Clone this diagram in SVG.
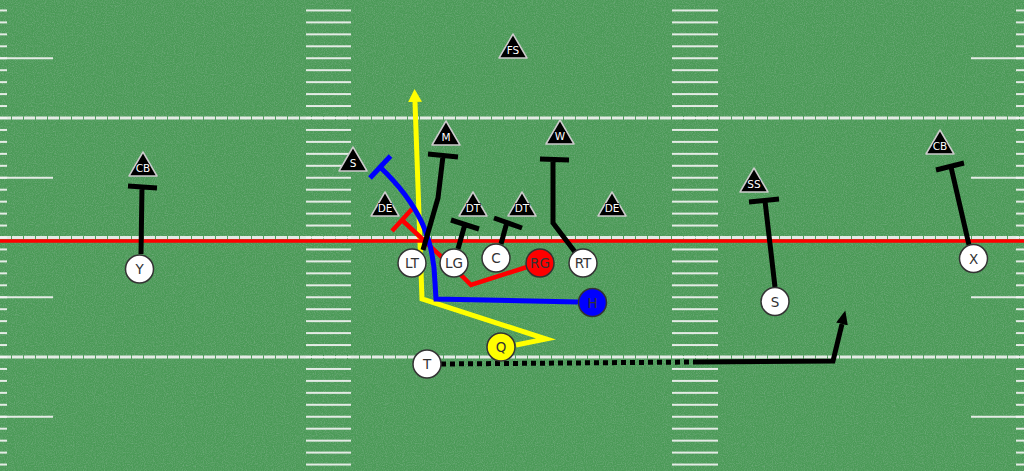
<svg xmlns="http://www.w3.org/2000/svg" width="1024" height="471" viewBox="0 0 1024 471">
<defs>
<style>
.yard{stroke:#f4f4f4;stroke-width:3;opacity:.9;stroke-dasharray:11 1}
.long{stroke:#f4f4f4;stroke-width:2;opacity:.9}
.blk{fill:none;stroke:#000;stroke-width:5;stroke-linejoin:miter}
.off circle{fill:#fff;stroke:#333;stroke-width:1.5}
.off text{font-family:"DejaVu Sans",Verdana,sans-serif;font-size:13.5px;fill:#333;text-anchor:middle}
.def polygon{fill:#000;stroke:#ccc;stroke-width:1.5;stroke-linejoin:round}
.def text{font-family:"DejaVu Sans",Verdana,sans-serif;font-size:10.5px;fill:#fff;text-anchor:middle;stroke:#000;stroke-width:1.5;paint-order:stroke}
</style>
<pattern id="hash" x="0" y="-2.5" width="1024" height="11.95" patternUnits="userSpaceOnUse">
<rect x="0" y="0" width="7" height="2" fill="#f4f4f4" opacity=".9"/>
<rect x="306" y="0" width="45" height="2" fill="#f4f4f4" opacity=".9"/>
<rect x="672" y="0" width="46" height="2" fill="#f4f4f4" opacity=".9"/>
<rect x="1016" y="0" width="8" height="2" fill="#f4f4f4" opacity=".9"/>
</pattern>
<filter id="grain" x="0" y="0" width="100%" height="100%">
<feTurbulence type="fractalNoise" baseFrequency="0.9" numOctaves="2" seed="4"/>
<feColorMatrix type="matrix" values="0 0 0 0 0.18  0 0 0 0 0.42  0 0 0 0 0.22  1.6 0 0 0 -0.62"/>
</filter>
<marker id="ay" viewBox="0 0 13 14" markerWidth="13" markerHeight="14" refX="0" refY="7" orient="auto" markerUnits="userSpaceOnUse">
<path d="M0 0L13 7L0 14z" fill="#ffff00"/>
</marker>
<marker id="ab" viewBox="0 0 14 12" markerWidth="14" markerHeight="12" refX="0" refY="6" orient="auto" markerUnits="userSpaceOnUse">
<path d="M0 0L14 6L0 12z" fill="#000"/>
</marker>
</defs>

<g id="field">
<rect width="1024" height="471" fill="#4b9a57"/>
<rect width="1024" height="471" filter="url(#grain)"/>
<rect width="1024" height="471" fill="url(#hash)"/>
<line class="yard" x1="0" y1="-1.5" x2="1024" y2="-1.5"/>
<line class="yard" x1="0" y1="118" x2="1024" y2="118"/>
<line class="yard" x1="0" y1="237.5" x2="1024" y2="237.5"/>
<line class="yard" x1="0" y1="357" x2="1024" y2="357"/>
<path class="long" d="M0 58.25H53M0 177.75H53M0 297.25H53M0 416.75H53M971 58.25H1024M971 177.75H1024M971 297.25H1024M971 416.75H1024"/>
</g>

<g id="connectors">
<path id="route-Q" d="M516 345L546 339L422 299L415 102" fill="none" stroke="#ffff00" stroke-width="5" stroke-linejoin="miter" marker-end="url(#ay)"/>
<line id="line-of-scrimmage" x1="0" y1="241" x2="1024" y2="241" stroke="#ff0000" stroke-width="3.5"/>
<g id="route-RG" fill="none" stroke="#ff0000" stroke-width="4.5">
<path d="M527 267L471 285L462 276L402 220"/>
<path d="M392 231L412 209"/>
</g>
<g id="route-H" fill="none" stroke="#0000ff" stroke-width="5">
<path d="M578 302L436 299L435 283C434 240 420 205 380 167"/>
<path d="M370 178L390.5 156"/>
</g>
<g id="blocks" class="blk">
<path class="blk" d="M141 254L142 187M128 186L157 188"/>
<path class="blk" d="M423 250L438 198L443 156M428 154L458 157"/>
<path class="blk" d="M458 249L465 224M451 220L479 229"/>
<path class="blk" d="M501 244L507 222M494 218L522 228"/>
<path class="blk" d="M575 252L553 223L553 160M540 159L569 160"/>
<path class="blk" d="M775 287L765 201M749 202L779 199"/>
<path class="blk" d="M969 245L951 167M936 170L964 163"/>
</g>
<g id="route-T" fill="none" stroke="#000" stroke-width="5">
<path d="M441 364L693 362" stroke-dasharray="5 4"/>
<path d="M693 362L833 361L842 324" stroke-linejoin="miter" marker-end="url(#ab)"/>
</g>
</g>

<g class="off">
<g id="Y"><circle cx="139.5" cy="269" r="14"/><text x="139.5" y="274">Y</text></g>
<g id="LT"><circle cx="412" cy="263" r="14"/><text x="412" y="268">LT</text></g>
<g id="LG"><circle cx="454" cy="263" r="14"/><text x="454" y="268">LG</text></g>
<g id="C"><circle cx="496" cy="258" r="14"/><text x="496" y="263">C</text></g>
<g id="RG"><circle cx="540" cy="263" r="14" style="fill:#ff0000"/><text x="540" y="268">RG</text></g>
<g id="RT"><circle cx="583" cy="263" r="14"/><text x="583" y="268">RT</text></g>
<g id="H"><circle cx="592.5" cy="302.5" r="14" style="fill:#0000ff"/><text x="592.5" y="307.5">H</text></g>
<g id="Q"><circle cx="501" cy="347" r="14" style="fill:#ffff00"/><text x="501" y="352">Q</text></g>
<g id="T"><circle cx="427" cy="364" r="14"/><text x="427" y="369">T</text></g>
<g id="S-off"><circle cx="775" cy="301.5" r="14"/><text x="775" y="306.5">S</text></g>
<g id="X"><circle cx="973.5" cy="258.5" r="14"/><text x="973.5" y="263.5">X</text></g>
</g>

<g class="def">
<g id="FS"><polygon points="513,34 527,58 499,58"/><text x="513" y="54">FS</text></g>
<g id="CB-left"><polygon points="143,152 157,176 129,176"/><text x="143" y="172">CB</text></g>
<g id="S-def"><polygon points="353,147 367,171 339,171"/><text x="353" y="167">S</text></g>
<g id="M"><polygon points="446,121 460,145 432,145"/><text x="446" y="141">M</text></g>
<g id="W"><polygon points="560,120 574,144 546,144"/><text x="560" y="140">W</text></g>
<g id="DE-left"><polygon points="385,192 399,216 371,216"/><text x="385" y="212">DE</text></g>
<g id="DT-left"><polygon points="473,192 487,216 459,216"/><text x="473" y="212">DT</text></g>
<g id="DT-right"><polygon points="522,192 536,216 508,216"/><text x="522" y="212">DT</text></g>
<g id="DE-right"><polygon points="612,192 626,216 598,216"/><text x="612" y="212">DE</text></g>
<g id="SS"><polygon points="754,168 768,192 740,192"/><text x="754" y="188">SS</text></g>
<g id="CB-right"><polygon points="940,130 954,154 926,154"/><text x="940" y="150">CB</text></g>
</g>
</svg>
